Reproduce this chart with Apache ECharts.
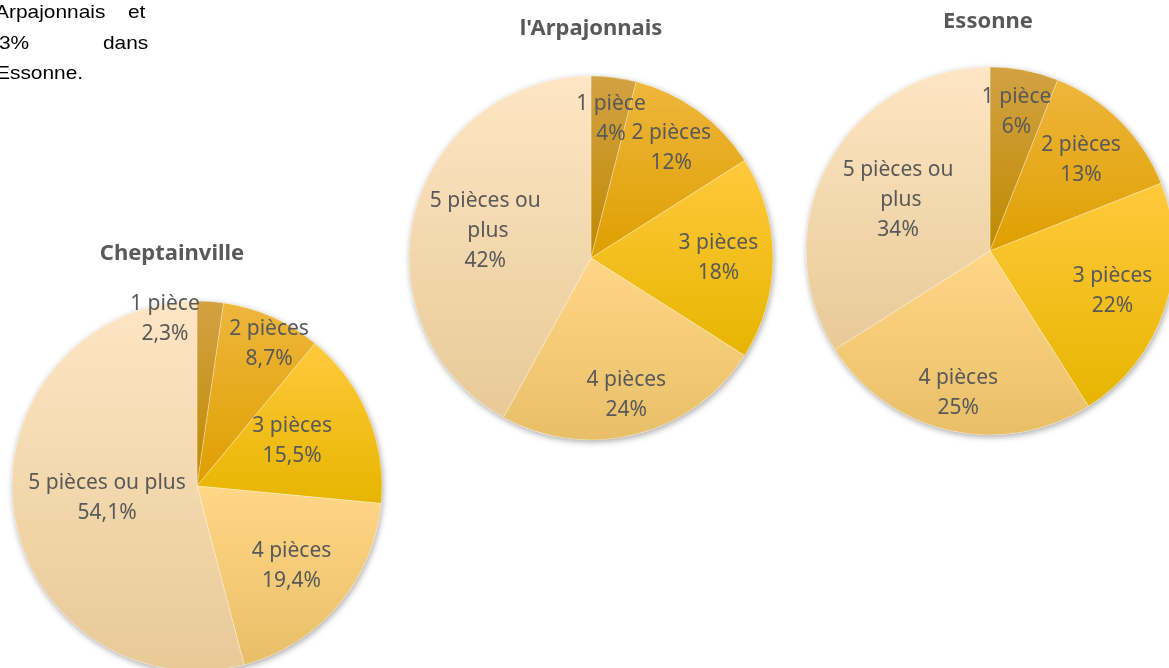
<!DOCTYPE html>
<html>
<head>
<meta charset="utf-8">
<script src="https://cdn.jsdelivr.net/npm/echarts@6/dist/echarts.min.js"></script>
<style>html,body{margin:0;padding:0;background:#fff;}#main{width:1169px;height:668px;}</style>
</head>
<body>
<div id="main"></div>
<script>
const categories = ['1 pièce', '2 pièces', '3 pièces', '4 pièces', '5 pièces ou plus'];
const cheptainvilleValues = [2.3, 8.7, 15.5, 19.4, 54.1];
const arpajonnaisValues = [4, 12, 18, 24, 42];
const essonneValues = [6, 13, 22, 25, 34];
const titles = ['Cheptainville', "l'Arpajonnais", 'Essonne'];

const sliceColors = [
  ['#d2a244', '#bf8a00'],
  ['#eeb63c', '#df9f00'],
  ['#ffc93c', '#e7b500'],
  ['#ffd686', '#e8bf68'],
  ['#fee5c4', '#e8ca97']
];

// label placement (fraction of radius, angle offset in degrees) — layout only
const pies = [
  {values: cheptainvilleValues, decimals: 1, center: [197, 486], r: 185, labelWidth: 220, titlePos: [172, 252],
   place: [[0.92, -15], [0.86, 3], [0.57, -3], [0.67, 0], [0.49, 0]]},
  {values: arpajonnaisValues, decimals: 0, center: [591, 258], r: 182, labelWidth: 125, titlePos: [591, 27],
   place: [[0.77, 1], [0.75, 0], [0.70, 0], [0.78, 0], [0.60, 0]]},
  {values: essonneValues, decimals: 0, center: [990, 251], r: 184, labelWidth: 125, titlePos: [988, 20],
   place: [[0.77, 0], [0.70, 0], [0.70, 0], [0.79, 0], [0.57, 0]]}
];

const chart = echarts.init(document.getElementById('main'));
const series = [];
pies.forEach((p) => {
  const total = p.values.reduce((a, b) => a + b, 0);
  const cum = [];
  let acc = 0;
  p.values.forEach((v) => { cum.push(acc + v / 2); acc += v; });
  // shadow disc under the pie
  series.push({
    type: 'pie', center: p.center, radius: [0, p.r], silent: true, animation: false, z: 1,
    label: {show: false}, labelLine: {show: false},
    itemStyle: {color: '#ffffff', shadowBlur: 6, shadowColor: 'rgba(0,0,0,0.35)', shadowOffsetX: 1, shadowOffsetY: 2},
    data: [{name: 'total', value: total}]
  });
  series.push({
    type: 'pie',
    center: p.center,
    radius: [0, p.r],
    startAngle: 90,
    clockwise: true,
    silent: true,
    animation: false,
    z: 2,
    itemStyle: {borderColor: 'rgba(255,255,255,0.45)', borderWidth: 0.6},
    label: {
      show: true,
      position: 'inside',
      color: '#595959',
      fontFamily: 'Noto Sans',
      fontSize: 21,
      lineHeight: 30,
      width: p.labelWidth,
      overflow: 'break',
      align: 'center',
      formatter: (d) => d.name + '\n' + d.value.toFixed(p.decimals).replace('.', ',') + '%'
    },
    labelLayout: (params) => {
      const k = params.dataIndex;
      const pl = p.place[k];
      const ang = (cum[k] / total * 360 + pl[1]) * Math.PI / 180;
      return {
        x: p.center[0] + Math.sin(ang) * p.r * pl[0],
        y: p.center[1] - Math.cos(ang) * p.r * pl[0],
        align: 'center', verticalAlign: 'middle'
      };
    },
    labelLine: {show: false},
    data: categories.map((c, k) => ({
      name: c,
      value: p.values[k],
      itemStyle: {
        color: new echarts.graphic.LinearGradient(0, 0, 0, 1, [
          {offset: 0, color: sliceColors[k][0]},
          {offset: 1, color: sliceColors[k][1]}
        ])
      }
    }))
  });
});

const noteFont = '19px "Liberation Sans"';
chart.setOption({
  backgroundColor: '#ffffff',
  title: pies.map((p, i) => ({
    text: titles[i],
    left: p.titlePos[0],
    top: p.titlePos[1] - 9,
    padding: 0,
    textAlign: 'center',
    textStyle: {color: '#595959', fontFamily: 'Noto Sans', fontWeight: 'bold', fontSize: 22}
  })),
  graphic: [
    {type: 'text', left: -5, top: 3, scaleX: 1.1, style: {text: 'Arpajonnais', font: noteFont, fill: '#000'}},
    {type: 'text', left: 128, top: 3, scaleX: 1.1, style: {text: 'et', font: noteFont, fill: '#000'}},
    {type: 'text', left: -1, top: 34, scaleX: 1.1, style: {text: '3%', font: noteFont, fill: '#000'}},
    {type: 'text', left: 103, top: 34, scaleX: 1.1, style: {text: 'dans', font: noteFont, fill: '#000'}},
    {type: 'text', left: -4, top: 64, scaleX: 1.1, style: {text: 'Essonne.', font: noteFont, fill: '#000'}}
  ],
  series: series
});
</script>
</body>
</html>
